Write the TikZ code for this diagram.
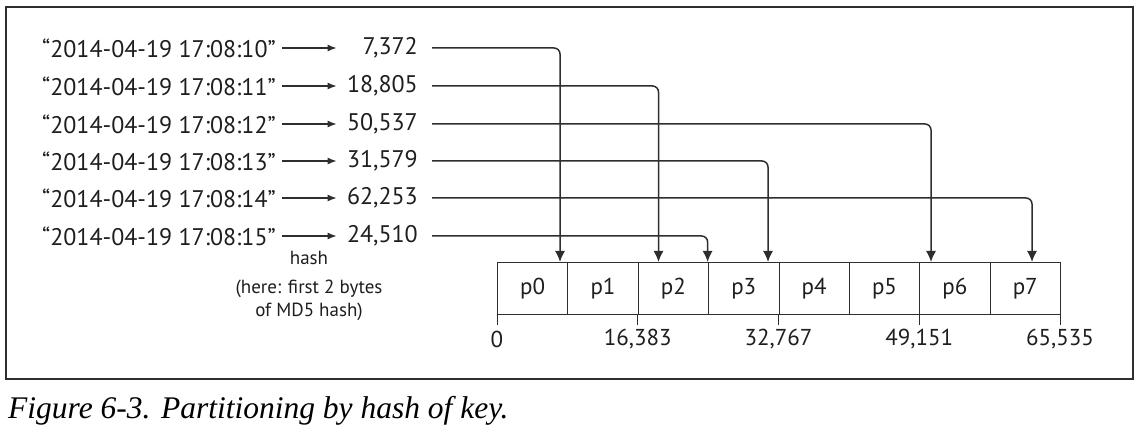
\documentclass[tikz,border=0pt]{standalone}
\usepackage{fontspec}
\setmainfont{PT Sans}
\newfontfamily\capfont{Liberation Serif}
\usetikzlibrary{arrows.meta}
\definecolor{ink}{HTML}{1E1E1E}
\definecolor{linec}{HTML}{2E2E2E}
\tikzset{
  keytxt/.style={anchor=east, inner sep=0pt, font=\fontsize{24}{28}\selectfont, text=ink},
  numtxt/.style={anchor=east, inner sep=0pt, text width=74pt, align=right, font=\fontsize{24}{28}\selectfont, text=ink},
  hasharrow/.style={draw=linec, line width=1.2pt, -{Latex[length=9pt,width=7pt]}, shorten <=6pt, shorten >=7pt},
  conn/.style={draw=linec, line width=1.5pt, rounded corners=6pt, -{Latex[length=11pt,width=10pt]}},
  cell/.style={draw=linec, line width=0.9pt, minimum width=70.375pt, minimum height=52pt, inner sep=0pt, anchor=north west, font=\fontsize{23}{28}\selectfont, text=ink},
  ticklbl/.style={anchor=center, inner sep=0pt, font=\fontsize{23}{28}\selectfont, text=ink},
  smalltxt/.style={inner sep=0pt, font=\fontsize{19}{23}\selectfont, text=ink, align=center},
}
\begin{document}
\begin{tikzpicture}[x=1pt,y=-1pt]
\useasboundingbox (0,0) rectangle (1142,438);
\draw[line width=1.1pt, draw=linec] (6,7) rectangle (1133,379);
% keys and hashes
\foreach \i/\y/\n in {0/48/7{,}372, 1/86/18{,}805, 2/124/50{,}537, 3/161/31{,}579, 4/198/62{,}253, 5/236/24{,}510}{
  \node[keytxt] (k\i) at (276,\y) {“2014-04-19 17:08:1\i”};
  \node[numtxt] (h\i) at (418,\y) {\n};
  \draw[hasharrow] (k\i.east) -- (h\i.west);
}
\node[smalltxt] (hashlbl) at (309,258) {hash};
\node[smalltxt, anchor=north] (note) at (309,280) {(here: first 2 bytes\\of MD5 hash)};
% partitions
\foreach \i in {0,...,7}{
  \node[cell] (p\i) at ({497+70.375*\i},262) {p\i};
}
% ticks
\foreach \j/\lbl in {0/0, 2/16{,}383, 4/32{,}767, 6/49{,}151, 8/65{,}535}{
  \coordinate (tk\j) at ({497+70.375*\j},314);
  \draw[draw=linec, line width=0.9pt] (tk\j) -- ++(0,11);
  \node[ticklbl] (tl\j) at ({497+70.375*\j},339) {\lbl};
}
% targets on box top
\coordinate (t0) at (560,262);
\coordinate (t1) at (658.5,262);
\coordinate (t2) at (931,262);
\coordinate (t3) at (768,262);
\coordinate (t4) at (1032,262);
\coordinate (t5) at (707.6,262);
\foreach \i in {0,...,5}{
  \draw[conn] ([xshift=14pt]h\i.east) -| (t\i);
}
\node[anchor=base west, inner sep=0pt, font=\capfont\itshape\fontsize{31.5}{36}\selectfont, text=black] (cap) at (8,418) {Figure 6-3. Partitioning by hash of key.};
\end{tikzpicture}
\end{document}
